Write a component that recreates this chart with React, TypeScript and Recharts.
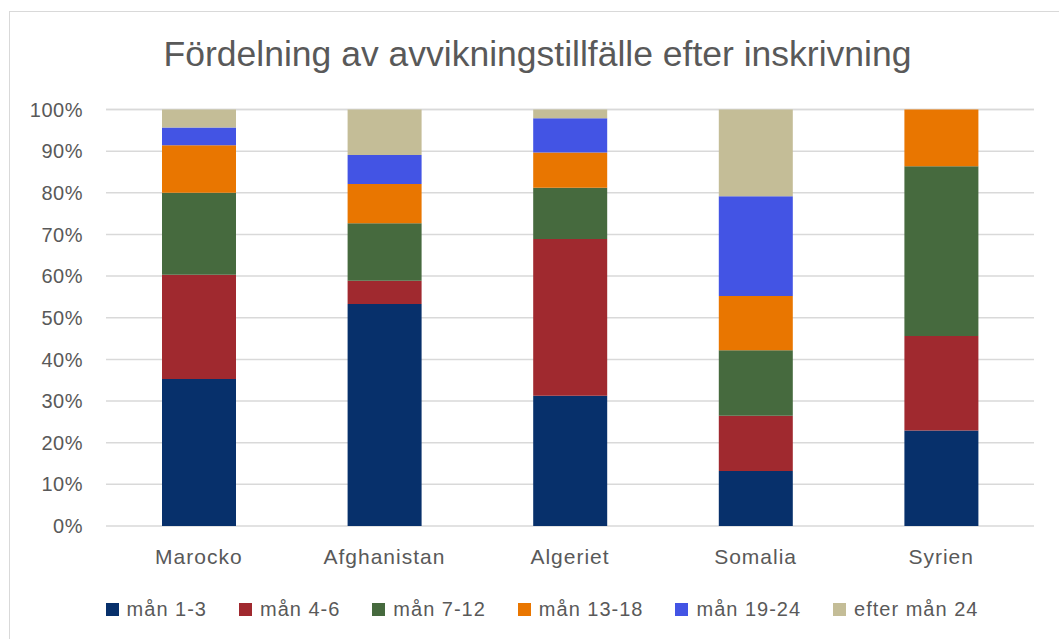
import { BarChart, Bar, XAxis, YAxis, CartesianGrid } from "recharts";

// share of dropouts (%) per time after enrolment
const countries = ["Marocko", "Afghanistan", "Algeriet", "Somalia", "Syrien"];
const man1to3 = [35.3, 53.3, 31.3, 13.2, 22.9];
const man4to6 = [25.0, 5.6, 37.6, 13.3, 22.7];
const man7to12 = [19.7, 13.8, 12.3, 15.7, 40.8];
const man13to18 = [11.4, 9.4, 8.5, 13.0, 13.6];
const man19to24 = [4.3, 7.0, 8.2, 24.0, 0];
const efter24 = [4.3, 10.9, 2.1, 20.8, 0];
const yTicks = [0, 10, 20, 30, 40, 50, 60, 70, 80, 90, 100];

const series = [
  { key: "m1", name: "mån 1-3", values: man1to3, color: "#07306B" },
  { key: "m2", name: "mån 4-6", values: man4to6, color: "#A0292F" },
  { key: "m3", name: "mån 7-12", values: man7to12, color: "#466A3E" },
  { key: "m4", name: "mån 13-18", values: man13to18, color: "#E97600" },
  { key: "m5", name: "mån 19-24", values: man19to24, color: "#4354E4" },
  { key: "m6", name: "efter mån 24", values: efter24, color: "#C4BD97" },
];

const data = countries.map((c, i) => {
  const row: Record<string, string | number> = { name: c };
  series.forEach(s => { row[s.key] = s.values[i]; });
  return row;
});

const FONT = "'Liberation Sans', Arial, sans-serif";
const GREY = "#595959";

export default function App() {
  return (
    <div style={{ position: "absolute", left: 0, top: 0, width: 1059, height: 639, overflow: "hidden", background: "#fff", fontFamily: FONT }}>
      <div style={{ position: "absolute", left: 9, top: 11, width: 1100, height: 700, border: "1.5px solid #d9d9d9", boxSizing: "border-box" }} />
      <div style={{ position: "absolute", left: 0, top: 37, width: 1075, textAlign: "center", fontSize: 35.5, lineHeight: "35.5px", color: GREY, whiteSpace: "nowrap" }}>
        Fördelning av avvikningstillfälle efter inskrivning
      </div>
      <div style={{ position: "absolute", left: 0, top: 0 }}>
        <BarChart
          width={1059}
          height={639}
          data={data}
          margin={{ top: 109.5, right: 25, bottom: 0, left: 46 }}
          barCategoryGap="30%"
        >
          <CartesianGrid vertical={false} stroke="#d9d9d9" strokeWidth={1.5} />
          <XAxis
            dataKey="name"
            axisLine={false}
            tickLine={false}
            tickMargin={17}
            height={113}
            tick={{ fontSize: 21, fill: GREY, fontFamily: FONT, letterSpacing: 1 }}
            interval={0}
          />
          <YAxis
            type="number"
            domain={[0, 100]}
            ticks={yTicks}
            width={60}
            axisLine={false}
            tickLine={false}
            tickMargin={17}
            tickFormatter={(v: number) => `${v}%`}
            tick={{ fontSize: 20, fill: GREY, fontFamily: FONT, letterSpacing: 0.5 }}
          />
          {series.map(s => (
            <Bar key={s.key} dataKey={s.key} name={s.name} stackId="a" fill={s.color} barSize={74} isAnimationActive={false} />
          ))}
        </BarChart>
      </div>
      <div style={{ position: "absolute", left: 0, top: 597, width: 1084, display: "flex", justifyContent: "center", alignItems: "center", gap: 32 }}>
        {series.map(s => (
          <div key={s.key} style={{ display: "flex", alignItems: "center", gap: 8 }}>
            <span style={{ display: "inline-block", width: 13, height: 13, background: s.color }} />
            <span style={{ fontSize: 20, lineHeight: "24px", color: GREY, letterSpacing: 1, whiteSpace: "nowrap" }}>{s.name}</span>
          </div>
        ))}
      </div>
    </div>
  );
}
